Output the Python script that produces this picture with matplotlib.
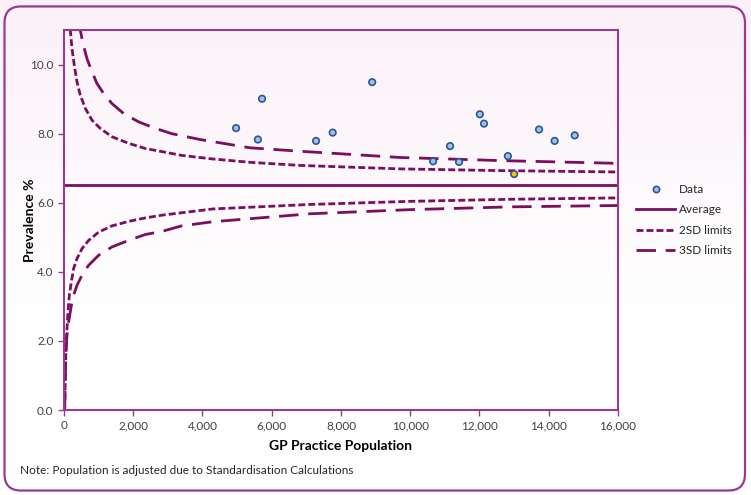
import matplotlib
matplotlib.use("Agg")
import matplotlib.pyplot as plt
import numpy as np
from matplotlib.patches import FancyBboxPatch
from matplotlib.lines import Line2D
from matplotlib.ticker import FuncFormatter

plt.rcParams['font.family'] = ['Lato', 'DejaVu Sans']

# practice data (population, prevalence %)
pop = [4970, 5600, 5720, 7280, 7760, 8900, 10660, 11150, 11410,
       12010, 12130, 12820, 13000, 13720, 14170, 14750]
prev = [8.16, 7.83, 9.01, 7.79, 8.03, 9.49, 7.20, 7.64, 7.18,
        8.56, 8.29, 7.35, 6.83, 8.12, 7.79, 7.95]
highlight = 12  # the practice drawn in yellow

average = 6.5

# control limits
up2_x = [140, 183, 231, 298, 375, 472, 617, 809, 1049, 1386, 1867, 2348, 2830,
         3398, 4265, 5372, 6816, 9704, 12592, 16000]
up2_y = [11.6, 10.99, 10.46, 9.98, 9.50, 9.11, 8.73, 8.39, 8.15, 7.91, 7.72, 7.57, 7.48,
         7.37, 7.27, 7.17, 7.08, 6.98, 6.93, 6.89]
up3_x = [430, 472, 539, 664, 809, 953, 1146, 1386, 1724, 2157, 2590, 3110, 3928,
         5372, 6816, 9704, 12592, 16000]
up3_y = [11.3, 10.99, 10.65, 10.17, 9.79, 9.45, 9.16, 8.87, 8.58, 8.34, 8.17, 8.00, 7.83,
         7.59, 7.49, 7.31, 7.22, 7.14]
lo2_x = [0, 19, 39, 58, 116, 154, 212, 279, 375, 520, 712, 1001, 1386, 1867, 2348,
         2830, 4300, 7105, 9993, 12881, 16000]
lo2_y = [0.0, 0.05, 0.92, 1.88, 2.84, 3.32, 3.71, 4.10, 4.38, 4.67, 4.91, 5.15, 5.33,
         5.46, 5.56, 5.64, 5.82, 5.95, 6.04, 6.10, 6.14]
lo3_x = [0, 19, 39, 58, 87, 135, 212, 279, 375, 520, 712, 1001, 1386, 1867, 2348,
         2830, 3398, 4300, 7105, 9993, 12881, 16000]
lo3_y = [0.0, 0.05, 1.01, 1.68, 2.17, 2.55, 3.03, 3.32, 3.61, 3.90, 4.19, 4.48, 4.72,
         4.91, 5.08, 5.17, 5.33, 5.45, 5.68, 5.80, 5.88, 5.92]

line_col = '#7A0E5F'
frame_col = '#9A3A8E'
dash2 = (2.5, 1.1)
dash3 = (7, 3.5)

fig = plt.figure(figsize=(7.51, 4.95), dpi=100)

# pale pink gradient behind everything
bg = fig.add_axes([0, 0, 1, 1], zorder=-10)
grad = np.linspace(0, 1, 256).reshape(-1, 1)
top = np.array([0.985, 0.945, 0.975])
bottom = np.array([1.0, 1.0, 1.0])
w = np.clip(grad / 0.65, 0, 1)
img = top + (bottom - top) * w
bg.imshow(img.reshape(256, 1, 3), aspect='auto', extent=[0, 1, 0, 1], origin='upper')
bg.set_xlim(0, 1)
bg.set_ylim(0, 1)
bg.axis('off')
bg.add_patch(FancyBboxPatch((0.006, 0.009), 0.986, 0.978,
                            boxstyle="round,pad=0,rounding_size=0.022",
                            fc='none', ec=frame_col, lw=1.6,
                            transform=bg.transAxes, mutation_aspect=751 / 495))

ax = fig.add_axes([0.0852, 0.1717, 0.7377, 0.7677])
ax.patch.set_alpha(0)

ax.plot(up2_x, up2_y, color=line_col, lw=2, dashes=dash2)
ax.plot(lo2_x, lo2_y, color=line_col, lw=2, dashes=dash2)
ax.plot(up3_x, up3_y, color=line_col, lw=2, dashes=dash3)
ax.plot(lo3_x, lo3_y, color=line_col, lw=2, dashes=dash3)
ax.axhline(average, color=line_col, lw=2)

face = ['#FFC000' if i == highlight else '#9DC3E6' for i in range(len(pop))]
ax.scatter(pop, prev, s=22, c=face, edgecolors='#2F5597', linewidths=1.2, zorder=5)

ax.set_xlim(0, 16000)
ax.set_ylim(0, 11)
ax.set_xticks(np.arange(0, 16001, 2000))
ax.set_yticks(np.arange(0, 10.1, 2))
ax.xaxis.set_major_formatter(FuncFormatter(lambda v, p: f"{int(v):,}"))
ax.yaxis.set_major_formatter(FuncFormatter(lambda v, p: f"{v:.1f}"))
ax.tick_params(labelsize=8.5, labelcolor='#404040', color=frame_col, length=4, width=1)
for s in ax.spines.values():
    s.set_color(frame_col)
    s.set_linewidth(1.5)

ax.set_xlabel('GP Practice Population', fontsize=10, fontweight='bold', labelpad=6)
ax.set_ylabel('Prevalence %', fontsize=10, fontweight='bold')
ax.yaxis.set_label_coords(-0.05, 0.5)

fig.text(0.027, 0.042, 'Note: Population is adjusted due to Standardisation Calculations',
         fontsize=8.5, color='#262626')

handles = [
    Line2D([], [], ls='none', marker='o', ms=4.5, mfc='#9DC3E6', mec='#2F5597', mew=1.2),
    Line2D([], [], color=line_col, lw=2),
    Line2D([], [], color=line_col, lw=2, dashes=dash2),
    Line2D([], [], color=line_col, lw=2, dashes=dash3),
]
fig.legend(handles, ['Data', 'Average', '2SD limits', '3SD limits'],
           loc='upper left', bbox_to_anchor=(0.833, 0.65), frameon=False,
           fontsize=8.5, handlelength=3.3, labelspacing=0.8, handletextpad=0.3,
           labelcolor='#262626')

fig.savefig('out.png', dpi=100)
